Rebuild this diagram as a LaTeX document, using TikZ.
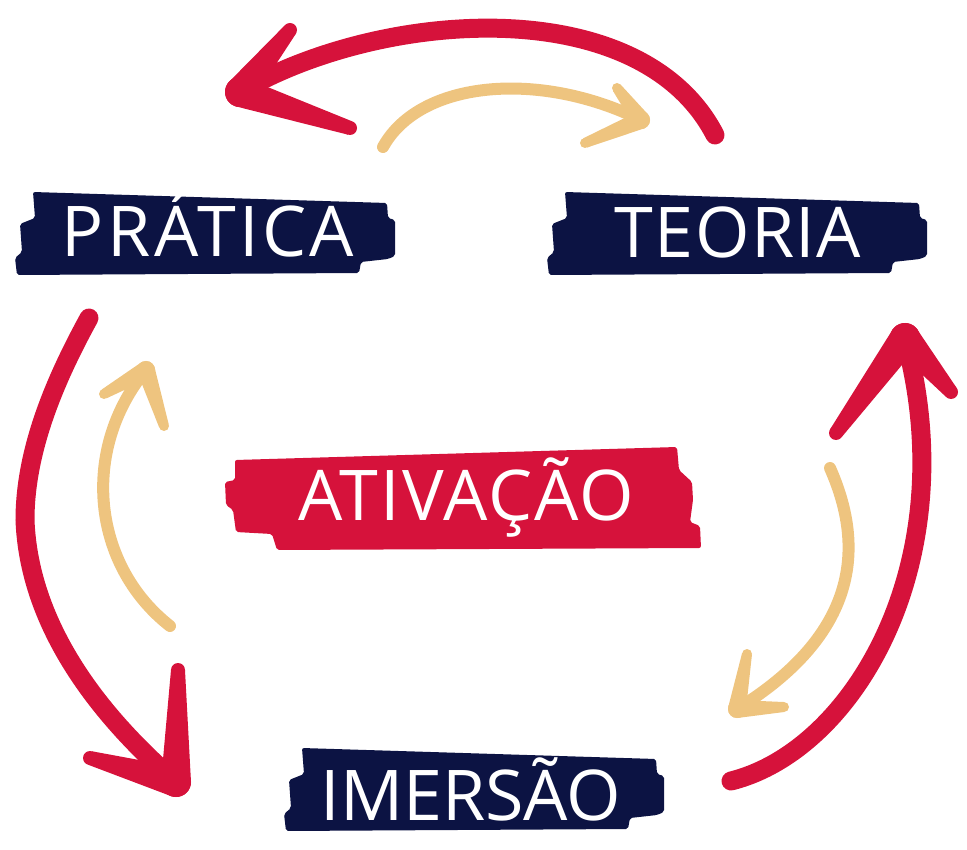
\documentclass[tikz,border=0pt]{standalone}
\usepackage{fontspec}
\setmainfont{Open Sans}
\newfontfamily\spaceA{Open Sans}[LetterSpace=5]
\newfontfamily\spaceB{Open Sans}[LetterSpace=2]
\newfontfamily\spaceC{Open Sans}[LetterSpace=3]
\usetikzlibrary{calc}
\definecolor{brushred}{HTML}{D6123B}
\definecolor{brushnavy}{HTML}{0C1343}
\definecolor{brushyellow}{HTML}{EEC47F}
\tikzset{
  label text/.style={text=white, anchor=base, inner sep=0pt, font=\fontsize{70}{84}\selectfont},
  navybrush/.style={fill=brushnavy, rounded corners=2pt},
  redbrush/.style={fill=brushred, rounded corners=2pt},
  redshaft/.style={draw=brushred, line width=19pt, line cap=round},
  yellowshaft/.style={draw=brushyellow, line width=12pt, line cap=round}
}
% tapered barb: colour, tip, end, half width at tip, half width at end
\newcommand{\taperbarb}[5]{%
  \fill[#1] ($(#2)!#4!90:(#3)$) -- ($(#3)!#5!-90:(#2)$) -- ($(#3)!#5!90:(#2)$) -- ($(#2)!#4!-90:(#3)$) -- cycle;
  \fill[#1] (#2) circle (#4);
  \fill[#1] (#3) circle (#5);
}
\begin{document}
\begin{tikzpicture}[x=1pt,y=-1pt]
\useasboundingbox (0,0) rectangle (967,850);
% brush label backgrounds
\def\labelbrush{(33,192) -- (387,203) -- (388,218) -- (395,220) -- (395,256) -- (388,259) -- (361,262) -- (359,273) -- (17,275) -- (15,258) -- (22,252) -- (20,224) -- (35,218) -- cycle}
\fill[navybrush] \labelbrush;
\begin{scope}[shift={(532,0)}]
\fill[navybrush] \labelbrush;
\end{scope}
\begin{scope}[shift={(269,556)}]
\fill[navybrush] \labelbrush;
\end{scope}
\fill[redbrush] (235,460) -- (677,447) -- (679,470) -- (692,482) -- (693,500) -- (690,522) -- (700,526) -- (701,548) -- (277,550) -- (272,534) -- (236,532) -- (233,510) -- (226,505) -- (225,482) -- (235,480) -- cycle;
% labels
\node[label text] (pratica) at (208,257) {\spaceA PRÁTICA};
\node[label text] (teoria) at (738,258) {\spaceB TEORIA};
\node[label text] (ativacao) at (466,520) {\spaceC ATIVAÇÃO};
\node[label text] (imersao) at (471,820) {IMERSÃO};
% arrow end points
\coordinate (rtTail) at (715,135);
\coordinate (rtTip) at (240,92);
\coordinate (rtB1) at (290,30);
\coordinate (rtB2) at (350,128);
\coordinate (ytTail) at (383,147);
\coordinate (ytTip) at (641,120);
\coordinate (ytB1) at (617,88);
\coordinate (ytB2) at (585,143);
\coordinate (rlTail) at (89,318);
\coordinate (rlMid) at (25,520);
\coordinate (rlTip) at (176,782);
\coordinate (rlB1) at (178,670);
\coordinate (rlB2) at (90,758);
\coordinate (ylTail) at (170,626);
\coordinate (ylTip) at (146,370);
\coordinate (ylB1) at (104,394);
\coordinate (ylB2) at (164,426);
\coordinate (rrTail) at (731,781);
\coordinate (rrTip) at (905,338);
\coordinate (rrB1) at (836,433);
\coordinate (rrB2) at (951,392);
\coordinate (yrTail) at (830,468);
\coordinate (yrTip) at (737,709);
\coordinate (yrB1) at (747,654);
\coordinate (yrB2) at (784,707);
% red top: TEORIA -> PRATICA
\draw[redshaft] (rtTail) .. controls (640,-10) and (380,10) .. (rtTip);
\taperbarb{brushred}{rtTip}{rtB1}{15pt}{7pt}
\taperbarb{brushred}{rtTip}{rtB2}{15pt}{7pt}
% yellow top: PRATICA -> TEORIA
\draw[yellowshaft] (ytTail) .. controls (420,80) and (540,70) .. (ytTip);
\taperbarb{brushyellow}{ytTip}{ytB1}{9pt}{5pt}
\taperbarb{brushyellow}{ytTip}{ytB2}{9pt}{5pt}
% red left: PRATICA -> IMERSAO
\draw[redshaft] (rlTail) .. controls (55,380) and (25,450) .. (rlMid) .. controls (28,600) and (70,690) .. (rlTip);
\taperbarb{brushred}{rlTip}{rlB1}{15pt}{7pt}
\taperbarb{brushred}{rlTip}{rlB2}{15pt}{7pt}
% yellow left: IMERSAO -> PRATICA
\draw[yellowshaft] (ylTail) .. controls (92,565) and (80,450) .. (ylTip);
\taperbarb{brushyellow}{ylTip}{ylB1}{9pt}{5pt}
\taperbarb{brushyellow}{ylTip}{ylB2}{9pt}{5pt}
% red right: IMERSAO -> TEORIA
\draw[redshaft] (rrTail) .. controls (855,750) and (965,560) .. (rrTip);
\taperbarb{brushred}{rrTip}{rrB1}{15pt}{7pt}
\taperbarb{brushred}{rrTip}{rrB2}{15pt}{7pt}
% yellow right: TEORIA -> IMERSAO
\draw[yellowshaft] (yrTail) .. controls (862,540) and (865,630) .. (yrTip);
\taperbarb{brushyellow}{yrTip}{yrB1}{9pt}{5pt}
\taperbarb{brushyellow}{yrTip}{yrB2}{9pt}{5pt}
\end{tikzpicture}
\end{document}
